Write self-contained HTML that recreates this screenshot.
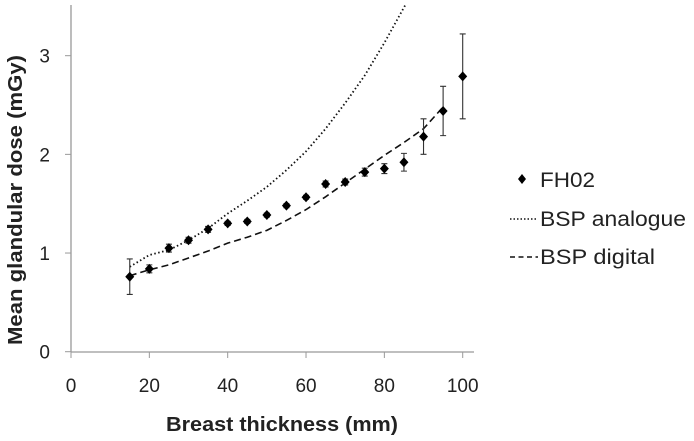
<!DOCTYPE html>
<html><head><meta charset="utf-8"><style>
body{margin:0;background:#fff;}
svg{display:block;font-family:"Liberation Sans",sans-serif;}
</style></head><body>
<svg id="chart" width="694" height="441">
<g id="axes"></g><g id="series"></g><g id="legend"></g>
</svg>
<script>
const xTicks=[0,20,40,60,80,100];
const yTicks=[0,1,2,3];
const fhX=[15,20,25,30,35,40,45,50,55,60,65,70,75,80,85,90,95,100];
const fhY=[0.76,0.84,1.05,1.13,1.24,1.30,1.32,1.385,1.48,1.565,1.70,1.72,1.82,1.855,1.92,2.18,2.44,2.79];
const fhErr=[0.18,0.04,0.04,0.03,0.03,0.02,0.02,0.02,0.02,0.02,0.03,0.03,0.04,0.05,0.09,0.18,0.25,0.43];
const anaX=[15,20,25,30,35,40,45,50,55,60,65,70,75,80,85.3];
const anaY=[0.86,0.98,1.03,1.13,1.25,1.40,1.53,1.67,1.84,2.03,2.26,2.52,2.80,3.13,3.51];
const digX=[15,20,25,30,35,40,45,50,55,60,65,70,75,80,85,90,95];
const digY=[0.77,0.83,0.88,0.95,1.02,1.10,1.16,1.23,1.33,1.44,1.57,1.71,1.85,1.99,2.12,2.26,2.48];
const NS="http://www.w3.org/2000/svg";
const sx=v=>71+v*3.917, sy=v=>351.7-v*98.67;
function mk(p,t,a){const e=document.createElementNS(NS,t);for(const k in a)e.setAttribute(k,a[k]);p.appendChild(e);return e;}
const ax=document.getElementById('axes'),se=document.getElementById('series'),lg=document.getElementById('legend');
let l=mk(ax,'line',{x1:71,y1:5,x2:71,y2:352,stroke:'#999','stroke-width':1.3});

l=mk(ax,'line',{x1:71,y1:352,x2:474,y2:352,stroke:'#999','stroke-width':1.3});

xTicks.forEach(v=>{mk(ax,'line',{x1:sx(v),y1:352,x2:sx(v),y2:358,stroke:'#999'});
const t=mk(ax,'text',{x:sx(v),y:392,'text-anchor':'middle','font-size':19,fill:'#222'});t.textContent=v;
});
yTicks.forEach(v=>{mk(ax,'line',{x1:65,y1:sy(v),x2:71,y2:sy(v),stroke:'#999'});
const t=mk(ax,'text',{x:50,y:sy(v)+7,'text-anchor':'end','font-size':19,fill:'#222'});t.textContent=v;
});
let t=mk(ax,'text',{x:282,y:431,'text-anchor':'middle','font-size':20,'font-weight':'bold',fill:'#222',textLength:232,lengthAdjust:'spacingAndGlyphs'});t.textContent='Breast thickness (mm)';

t=mk(ax,'text',{x:0,y:0,'text-anchor':'middle','font-size':20,'font-weight':'bold',fill:'#222',transform:'translate(22,200) rotate(-90)',textLength:290,lengthAdjust:'spacingAndGlyphs'});t.textContent='Mean glandular dose (mGy)';

function path(xs,ys){return xs.map((x,i)=>(i?'L':'M')+sx(x)+','+sy(ys[i])).join('');}
let p=mk(se,'path',{d:path(anaX,anaY),fill:'none',stroke:'#111','stroke-width':1.8,'stroke-dasharray':'1.5 2.5'});

p=mk(se,'path',{d:path(digX,digY),fill:'none',stroke:'#111','stroke-width':1.6,'stroke-dasharray':'7 4'});

fhX.forEach((x,i)=>{const cx=sx(x),cy=sy(fhY[i]),y1=sy(fhY[i]+fhErr[i]),y2=sy(fhY[i]-fhErr[i]);
const g=mk(se,'g',{});

mk(g,'path',{d:`M${cx},${y1}V${y2}M${cx-3},${y1}H${cx+3}M${cx-3},${y2}H${cx+3}`,stroke:'#333','stroke-width':1.1,fill:'none'});
mk(g,'path',{d:`M${cx},${cy-5}L${cx+4.5},${cy}L${cx},${cy+5}L${cx-4.5},${cy}Z`,fill:'#000'});});
let g=mk(lg,'g',{});
mk(g,'path',{d:'M522,174L526,179L522,184L518,179Z',fill:'#000'});
t=mk(g,'text',{x:540,y:187,'font-size':21,fill:'#222',textLength:55,lengthAdjust:'spacingAndGlyphs'});t.textContent='FH02';
g=mk(lg,'g',{});
mk(g,'line',{x1:510,y1:219,x2:538,y2:219,stroke:'#111','stroke-width':1.6,'stroke-dasharray':'1.5 2'});
t=mk(g,'text',{x:540,y:226,'font-size':21,fill:'#222',textLength:146,lengthAdjust:'spacingAndGlyphs'});t.textContent='BSP analogue';
g=mk(lg,'g',{});
mk(g,'line',{x1:510,y1:257,x2:538,y2:257,stroke:'#111','stroke-width':1.6,'stroke-dasharray':'5 3.5'});
t=mk(g,'text',{x:540,y:264,'font-size':21,fill:'#222',textLength:115,lengthAdjust:'spacingAndGlyphs'});t.textContent='BSP digital';
</script>
</body></html>
